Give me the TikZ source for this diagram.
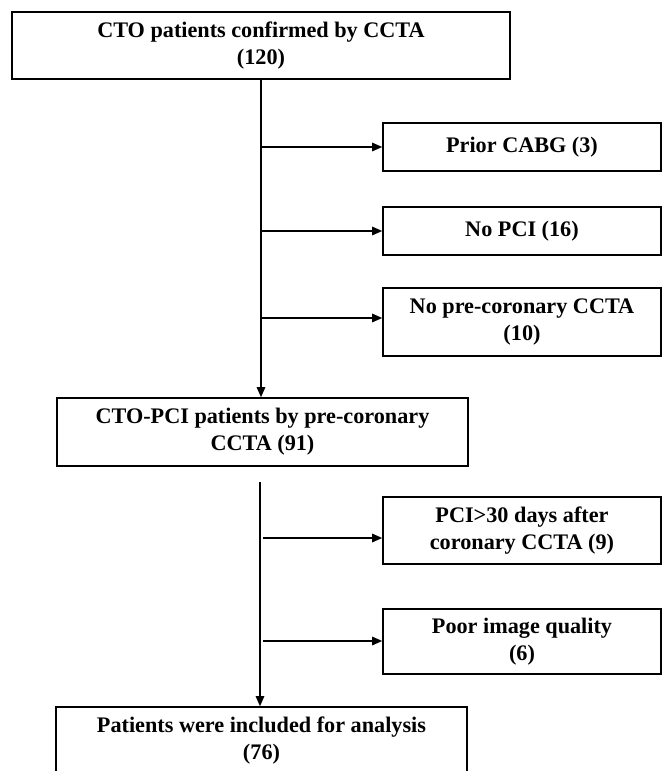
\documentclass[tikz,border=0pt]{standalone}
\usepackage{fontspec}
\setmainfont{Liberation Serif}
\usetikzlibrary{arrows.meta}

\begin{document}
\begin{tikzpicture}[MainBox/.style={draw, line width=1.1pt, align=center, minimum width=10.275cm, minimum height=1.7cm, inner sep=0pt, font=\bfseries\fontsize{15.8}{19.2}\selectfont},
ExcludeBox/.style={draw, line width=1.1pt, align=center, minimum width=6.95cm, inner sep=0pt, font=\bfseries\fontsize{15.8}{19.2}\selectfont},
Flow/.style={-{Triangle[length=2.5mm, width=2.1mm]}, line width=1.1pt}]

\useasboundingbox (0,0) rectangle (16.55,-19.275);

\node[MainBox, minimum width=12.45cm, minimum height=1.675cm, line width=1.6pt] (cto) at (6.525,-1.1375) {CTO patients confirmed by CCTA\\(120)};

\node[ExcludeBox, minimum height=1.2cm] (cabg) at (13.05,-3.675) {Prior CABG (3)};
\node[ExcludeBox, minimum height=1.2cm] (nopci) at (13.05,-5.775) {No PCI (16)};
\node[ExcludeBox, minimum height=1.7cm] (noccta) at (13.05,-8.05) {No pre-coronary CCTA\\(10)};

\node[MainBox] (ctopci) at (6.5625,-10.8) {CTO-PCI patients by pre-coronary\\CCTA (91)};

\node[ExcludeBox, minimum height=1.675cm] (late) at (13.05,-13.2625) {PCI>30 days after\\coronary CCTA (9)};
\node[ExcludeBox, minimum height=1.625cm] (poor) at (13.05,-16.0375) {Poor image quality\\(6)};

\node[MainBox] (final) at (6.5375,-18.525) {Patients were included for analysis\\(76)};

\coordinate (s1) at (6.525,-3.675);
\coordinate (s2) at (6.525,-5.775);
\coordinate (s3) at (6.525,-7.95);
\coordinate (split) at (6.5,-12.05);
\coordinate (s4) at (6.575,-13.45);
\coordinate (s5) at (6.575,-16.025);

\draw[Flow] (cto.south) -- (cto.south |- ctopci.north);
\draw[Flow] (s1) -- (cabg.west);
\draw[Flow] (s2) -- (nopci.west);
\draw[Flow] (s3) -- (s3 -| noccta.west);
\draw[Flow] (split) -- (split |- final.north);
\draw[Flow] (s4) -- (s4 -| late.west);
\draw[Flow] (s5) -- (s5 -| poor.west);

\end{tikzpicture}
\end{document}
